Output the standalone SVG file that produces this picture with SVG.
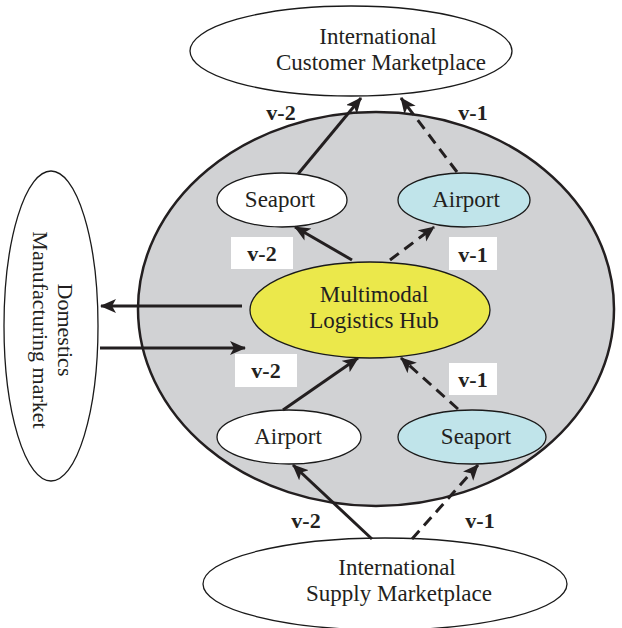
<svg xmlns="http://www.w3.org/2000/svg" width="622" height="628" viewBox="0 0 622 628">
<style>
.node{stroke:#1a1a1a;stroke-width:1.3}
.t{font-family:"Liberation Serif","Times New Roman",serif;font-size:23px;fill:#231f20;text-anchor:middle}
.lbl{font-family:"Liberation Serif","Times New Roman",serif;font-size:22px;font-weight:bold;fill:#231f20;text-anchor:middle}
.c{stroke:#231f20;stroke-width:3;fill:none}
.d{stroke-dasharray:11 7}
</style>
<defs>
<marker id="ah" markerUnits="userSpaceOnUse" markerWidth="18" markerHeight="16" refX="15" refY="7" orient="auto">
<path d="M0,0 L16,7 L0,14 L4,7 Z" fill="#231f20"/>
</marker>
</defs>
<rect width="622" height="628" fill="#ffffff"/>
<g id="region">
<ellipse cx="376" cy="309" rx="238" ry="197" fill="#d1d2d4" stroke="#231f20" stroke-width="2.5"/>
</g>
<g id="customer">
<ellipse class="node" cx="351" cy="51" rx="161" ry="45" fill="#fff"/>
<text class="t" x="378" y="44">International</text>
<text class="t" x="381" y="70">Customer Marketplace</text>
</g>
<g id="domestic">
<ellipse class="node" cx="51" cy="326" rx="47" ry="155" fill="#fff"/>
<text class="t" style="font-size:22px" transform="translate(51,330) rotate(90)" x="0" y="-7">Domestics</text>
<text class="t" style="font-size:22px" transform="translate(51,330) rotate(90)" x="0" y="18">Manufacturing market</text>
</g>
<g id="seaport-top">
<ellipse class="node" cx="282" cy="200" rx="65" ry="27" fill="#fff"/>
<text class="t" x="280" y="207">Seaport</text>
</g>
<g id="airport-top">
<ellipse class="node" cx="464" cy="200" rx="66" ry="27" fill="#c0e4ea"/>
<text class="t" x="466" y="207">Airport</text>
</g>
<g id="hub">
<ellipse class="node" cx="370" cy="310" rx="120" ry="48" fill="#ebe84b"/>
<text class="t" x="374" y="302">Multimodal</text>
<text class="t" x="374" y="328">Logistics Hub</text>
</g>
<g id="airport-bottom">
<ellipse class="node" cx="289" cy="437" rx="72" ry="27" fill="#fff"/>
<text class="t" x="288" y="444">Airport</text>
</g>
<g id="seaport-bottom">
<ellipse class="node" cx="472" cy="437" rx="74" ry="27" fill="#c0e4ea"/>
<text class="t" x="476" y="444">Seaport</text>
</g>
<g id="supply">
<ellipse class="node" cx="385" cy="584" rx="182" ry="46" fill="#fff"/>
<text class="t" x="397" y="575">International</text>
<text class="t" x="399" y="601">Supply Marketplace</text>
</g>
<g id="connectors">
<line class="c" x1="298" y1="174" x2="361" y2="98" marker-end="url(#ah)"/>
<line class="c d" x1="457" y1="172" x2="401" y2="98" marker-end="url(#ah)"/>
<line class="c" x1="352" y1="260" x2="295" y2="227" marker-end="url(#ah)"/>
<line class="c d" x1="390" y1="260" x2="434" y2="227" marker-end="url(#ah)"/>
<line class="c" x1="242" y1="306" x2="101" y2="306" marker-end="url(#ah)"/>
<line class="c" x1="100" y1="348" x2="245" y2="348" marker-end="url(#ah)"/>
<line class="c" x1="283" y1="410" x2="358" y2="358" marker-end="url(#ah)"/>
<line class="c d" x1="458" y1="409" x2="401" y2="358" marker-end="url(#ah)"/>
<line class="c" x1="372" y1="539" x2="293" y2="465" marker-end="url(#ah)"/>
<line class="c d" x1="412" y1="539" x2="478" y2="465" marker-end="url(#ah)"/>
</g>
<g id="labels">
<text class="lbl" x="281" y="120">v-2</text>
<text class="lbl" x="473" y="120">v-1</text>
<rect x="231" y="237" width="62" height="32" fill="#fff"/>
<text class="lbl" x="262" y="261">v-2</text>
<rect x="449" y="237" width="48" height="33" fill="#fff"/>
<text class="lbl" x="473" y="262">v-1</text>
<rect x="235" y="354" width="62" height="33" fill="#fff"/>
<text class="lbl" x="266" y="378">v-2</text>
<rect x="449" y="363" width="48" height="32" fill="#fff"/>
<text class="lbl" x="473" y="387">v-1</text>
<text class="lbl" x="306" y="528">v-2</text>
<text class="lbl" x="480" y="528">v-1</text>
</g>
</svg>
